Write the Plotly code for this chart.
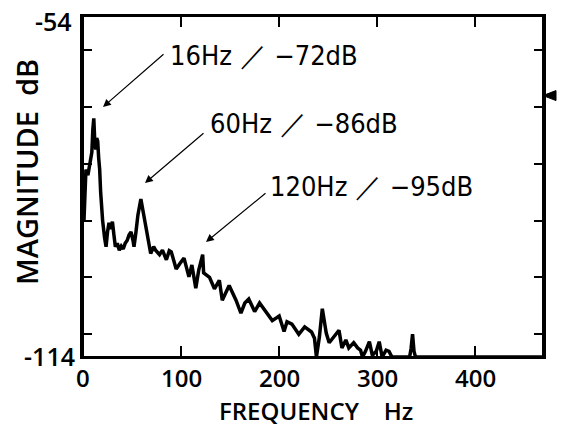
import plotly.graph_objects as go

# ---- data ----
freq_hz = [1, 3, 5, 7, 9, 10, 11, 12, 13, 14, 15, 16, 17, 18, 19, 20, 22, 23.5, 25, 26.5, 28, 30,
           31.5, 33, 35, 37, 39, 41, 43, 45, 47, 49, 51, 52, 54, 56, 59, 61, 64, 66, 69, 72, 74,
           78, 81, 85, 88, 90, 95, 99, 103, 108, 111, 115, 118, 122, 123, 129, 134, 139, 142,
           149, 156, 161, 165, 169, 175, 180, 186, 193, 200, 205, 208, 213, 220, 226, 233, 236,
           238, 241, 244, 248, 251, 256, 261, 264, 268, 271, 276, 280, 283, 285, 288, 292, 295,
           299, 302, 305, 309, 312, 315, 320, 333, 334.5, 336, 337.5, 339, 469]
magnitude_db = [-90, -81, -82, -80, -78, -74, -72, -76, -77.5, -75.5, -76, -79, -81, -85, -88, -90,
                -93, -94.6, -92, -90.4, -91.5, -90.2, -92.5, -94.6, -94, -95.2, -94.5, -95, -94,
                -93.5, -92.5, -92, -93.5, -94.6, -92, -89, -86.2, -88, -91, -93, -95.8, -94.6,
                -95.2, -96, -95.2, -96.9, -95.3, -95.5, -98.5, -97.5, -96.6, -99.9, -97.8, -101.9,
                -98.7, -96, -99.2, -100, -102, -100.5, -104, -101.4, -104, -106.3, -104.5, -103.8,
                -106, -104.5, -106, -107.6, -106.8, -109.5, -107.8, -108.2, -110, -108.7, -109.6,
                -110.7, -114, -110.5, -105.5, -109.8, -111.5, -110.5, -109.3, -112.4, -111,
                -112.4, -111.5, -112.4, -112.8, -114, -113, -111.3, -113.7, -113, -111.3, -114,
                -112.8, -113, -114, -114, -114, -112.5, -110, -113, -114, -114]

x_tick_vals = [0, 100, 200, 300, 400]
x_tick_text = ["0", "100", "200", "300", "400"]
y_tick_vals = [-114, -110, -100, -90, -80, -70, -60, -54]
y_tick_text = ["-114", "", "", "", "", "", "", ""]
y_top_label = "-54"
x_range = [0, 469]
y_range = [-114, -54]
marker_level_db = -68

peak_labels = ["16Hz \uff0f \u221272dB", "60Hz \uff0f \u221286dB", "120Hz \uff0f \u221295dB"]

# ---- layout geometry (pixels) ----
W, H = 562, 427
L, R, T, B = 83, 543, 16, 357
DB_PER_PX = (y_range[1] - y_range[0]) / (B - T)


def px(x):
    return (x - L) / (R - L)


def py(y):
    return (B - y) / (B - T)


label_pos = [(168, 55), (208, 123), (268, 186)]
arrows = [((165, 53), (103, 107)), ((205, 132), (145, 183)), ((267, 192), (206, 242))]

fig = go.Figure()
fig.add_trace(go.Scatter(x=freq_hz, y=magnitude_db, mode="lines",
                         line=dict(color="black", width=3.5), hoverinfo="skip"))

tick_font = dict(family="Open Sans, Arial, sans-serif", size=25, color="black", weight=600)
xtick_font = dict(family="Open Sans, Arial, sans-serif", size=24, color="black", weight=600)

fig.update_layout(
    width=W, height=H,
    margin=dict(l=L, r=W - R, t=T, b=H - B, autoexpand=False),
    paper_bgcolor="white", plot_bgcolor="white",
    showlegend=False,
    xaxis=dict(range=x_range, tickvals=x_tick_vals, showticklabels=False,
               ticks="inside", ticklen=11, tickwidth=2, tickcolor="black",
               showline=True, linewidth=2, linecolor="black", mirror="ticks",
               showgrid=False, zeroline=False, automargin=False),
    yaxis=dict(range=y_range, tickvals=y_tick_vals, ticktext=y_tick_text,
               ticks="inside", ticklen=9, tickwidth=2, tickcolor="black",
               showline=True, linewidth=3, linecolor="black", mirror="ticks",
               showgrid=False, zeroline=False, tickfont=tick_font, automargin=False,
               ticklabeloverflow="allow"),
)

# x tick labels placed on the x axis scale, just below the frame
for v, t in zip(x_tick_vals, x_tick_text):
    fig.add_annotation(x=v, xref="x", y=py(377), yref="paper", text=t, showarrow=False,
                       xanchor="center", yanchor="middle", font=xtick_font)

fig.add_shape(type="rect", xref="paper", yref="paper", x0=0, y0=0, x1=1, y1=1,
              line=dict(color="black", width=2), layer="above")

# level marker (filled triangle just outside the right frame)
half = 5 * DB_PER_PX
fig.add_shape(type="path", xref="paper", yref="y",
              path=(f"M {px(543)},{marker_level_db} L {px(556)},{marker_level_db + half} "
                    f"L {px(556)},{marker_level_db - half} Z"),
              fillcolor="black", line=dict(color="black", width=1), layer="above")

fig.add_annotation(x=px(74), y=py(21), xref="paper", yref="paper", text=y_top_label,
                   showarrow=False, xanchor="right", yanchor="middle", font=tick_font)

ann_font = dict(family="DejaVu Sans Condensed, DejaVu Sans, sans-serif", size=27, color="black")
for text, (lx, ly) in zip(peak_labels, label_pos):
    fig.add_annotation(x=px(lx), y=py(ly), xref="paper", yref="paper", text=text,
                       showarrow=False, xanchor="left", yanchor="middle", font=ann_font)

for (tail, tip) in arrows:
    fig.add_annotation(x=px(tip[0]), y=py(tip[1]), xref="paper", yref="paper", text="",
                       showarrow=True, arrowhead=2, arrowsize=1.3, arrowwidth=1.2,
                       arrowcolor="black", ax=tail[0] - tip[0], ay=tail[1] - tip[1])

title_font = dict(family="Open Sans, Arial, sans-serif", size=24, color="black", weight=600)
fig.add_annotation(x=px(316), y=py(410), xref="paper", yref="paper",
                   text="FREQUENCY\u00a0\u00a0\u00a0\u00a0Hz", showarrow=False,
                   xanchor="center", yanchor="middle", font=title_font)
fig.add_annotation(x=px(26), y=py(172), xref="paper", yref="paper",
                   text="MAGNITUDE\u00a0\u00a0dB", showarrow=False, textangle=-90,
                   xanchor="center", yanchor="middle",
                   font=dict(family="Open Sans, Arial, sans-serif", size=29, color="black", weight=600))

fig.write_html("out.html", config={"displayModeBar": False},
               post_script="document.body.style.margin='0';"
                           "document.body.style.overflow='hidden';")
